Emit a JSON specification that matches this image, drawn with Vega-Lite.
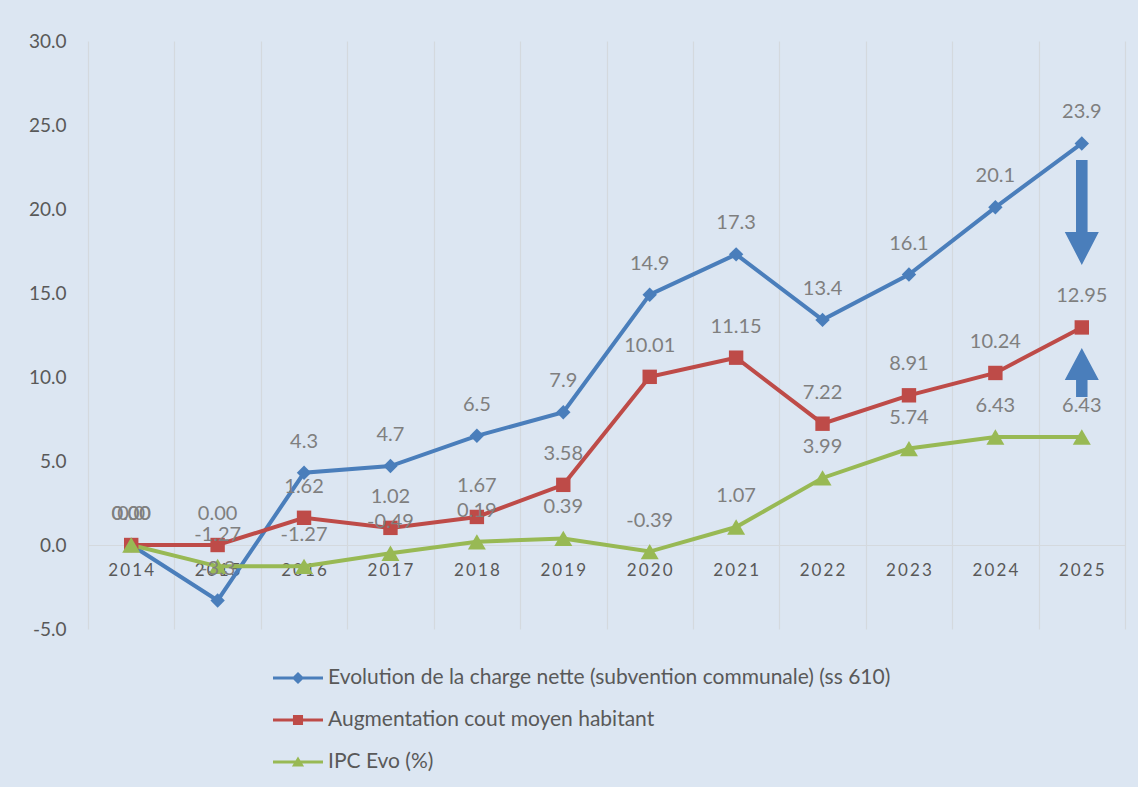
{
  "$schema": "https://vega.github.io/schema/vega-lite/v6.json",
  "width": 1037,
  "height": 588,
  "autosize": {"type": "none"},
  "padding": {"left": 88, "top": 41, "right": 13, "bottom": 158},
  "background": "#dce6f2",
  "config": {
    "view": {"stroke": null},
    "font": "Lato",
    "locale": {"number": {"decimal": ".", "thousands": ",", "grouping": [3], "currency": ["$", ""], "minus": "-"}},
    "legend": {
      "orient": "none",
      "legendX": 189,
      "legendY": 616,
      "direction": "vertical",
      "padding": 0,
      "rowPadding": 11,
      "labelFontSize": 21,
      "labelFont": "Lato",
      "labelColor": "#595959",
      "labelLimit": 0,
      "labelOffset": 9,
      "symbolSize": 1764,
      "symbolStrokeWidth": 0,
      "symbolOpacity": 1
    }
  },
  "data": {
    "values": [
      {"year": "2014", "series": "Evolution de la charge nette (subvention communale) (ss 610)", "value": 0.0},
      {"year": "2015", "series": "Evolution de la charge nette (subvention communale) (ss 610)", "value": -3.3},
      {"year": "2016", "series": "Evolution de la charge nette (subvention communale) (ss 610)", "value": 4.3},
      {"year": "2017", "series": "Evolution de la charge nette (subvention communale) (ss 610)", "value": 4.7},
      {"year": "2018", "series": "Evolution de la charge nette (subvention communale) (ss 610)", "value": 6.5},
      {"year": "2019", "series": "Evolution de la charge nette (subvention communale) (ss 610)", "value": 7.9},
      {"year": "2020", "series": "Evolution de la charge nette (subvention communale) (ss 610)", "value": 14.9},
      {"year": "2021", "series": "Evolution de la charge nette (subvention communale) (ss 610)", "value": 17.3},
      {"year": "2022", "series": "Evolution de la charge nette (subvention communale) (ss 610)", "value": 13.4},
      {"year": "2023", "series": "Evolution de la charge nette (subvention communale) (ss 610)", "value": 16.1},
      {"year": "2024", "series": "Evolution de la charge nette (subvention communale) (ss 610)", "value": 20.1},
      {"year": "2025", "series": "Evolution de la charge nette (subvention communale) (ss 610)", "value": 23.9},
      {"year": "2014", "series": "Augmentation cout moyen habitant", "value": 0.0},
      {"year": "2015", "series": "Augmentation cout moyen habitant", "value": 0.0},
      {"year": "2016", "series": "Augmentation cout moyen habitant", "value": 1.62},
      {"year": "2017", "series": "Augmentation cout moyen habitant", "value": 1.02},
      {"year": "2018", "series": "Augmentation cout moyen habitant", "value": 1.67},
      {"year": "2019", "series": "Augmentation cout moyen habitant", "value": 3.58},
      {"year": "2020", "series": "Augmentation cout moyen habitant", "value": 10.01},
      {"year": "2021", "series": "Augmentation cout moyen habitant", "value": 11.15},
      {"year": "2022", "series": "Augmentation cout moyen habitant", "value": 7.22},
      {"year": "2023", "series": "Augmentation cout moyen habitant", "value": 8.91},
      {"year": "2024", "series": "Augmentation cout moyen habitant", "value": 10.24},
      {"year": "2025", "series": "Augmentation cout moyen habitant", "value": 12.95},
      {"year": "2014", "series": "IPC Evo (%)", "value": 0.0},
      {"year": "2015", "series": "IPC Evo (%)", "value": -1.27},
      {"year": "2016", "series": "IPC Evo (%)", "value": -1.27},
      {"year": "2017", "series": "IPC Evo (%)", "value": -0.49},
      {"year": "2018", "series": "IPC Evo (%)", "value": 0.19},
      {"year": "2019", "series": "IPC Evo (%)", "value": 0.39},
      {"year": "2020", "series": "IPC Evo (%)", "value": -0.39},
      {"year": "2021", "series": "IPC Evo (%)", "value": 1.07},
      {"year": "2022", "series": "IPC Evo (%)", "value": 3.99},
      {"year": "2023", "series": "IPC Evo (%)", "value": 5.74},
      {"year": "2024", "series": "IPC Evo (%)", "value": 6.43},
      {"year": "2025", "series": "IPC Evo (%)", "value": 6.43}
    ]
  },
  "encoding": {
    "y": {
      "field": "value",
      "type": "quantitative",
      "scale": {"domain": [-5, 30], "nice": false, "zero": false},
      "axis": {
        "title": null,
        "values": [-5, 0, 5, 10, 15, 20, 25, 30],
        "format": ".1f",
        "grid": false,
        "domain": false,
        "ticks": false,
        "tickSize": 0,
        "labelPadding": 22,
        "labelFontSize": 19,
        "labelFont": "Lato",
        "labelColor": "#595959",
        "labelFlush": false,
        "labelOverlap": false
      }
    }
  },
  "resolve": {"axis": {"x": "independent"}},
  "layer": [
    {
      "mark": {"type": "point", "filled": true, "opacity": 0, "size": 1764, "strokeWidth": 0},
      "encoding": {
        "x": {"field": "year", "type": "ordinal", "axis": null},
        "color": {
          "field": "series", "type": "nominal",
          "scale": {
            "domain": ["Evolution de la charge nette (subvention communale) (ss 610)", "Augmentation cout moyen habitant", "IPC Evo (%)"],
            "range": ["#4a7ebb", "#be4b48", "#98b954"]
          },
          "legend": {"title": null, "symbolOpacity": 1}
        },
        "shape": {
          "field": "series", "type": "nominal",
          "scale": {
            "domain": ["Evolution de la charge nette (subvention communale) (ss 610)", "Augmentation cout moyen habitant", "IPC Evo (%)"],
            "range": [
              "M-1.19,-0.071H1.19V0.071H-1.19Z M0,-0.29L0.29,0L0,0.29L-0.29,0Z",
              "M-1.19,-0.071H1.19V0.071H-1.19Z M-0.24,-0.24H0.24V0.24H-0.24Z",
              "M-1.19,-0.071H1.19V0.071H-1.19Z M0,-0.26L0.29,0.22H-0.29Z"
            ]
          },
          "legend": {"title": null, "symbolOpacity": 1}
        }
      }
    },
    {
      "mark": {"type": "line", "strokeWidth": 4},
      "encoding": {
        "x": {
          "field": "year", "type": "ordinal",
          "scale": {"type": "band", "paddingInner": 0, "paddingOuter": 0},
          "axis": {"title": null, "orient": "bottom", "grid": true, "tickBand": "extent", "gridColor": "#d4d9de", "gridWidth": 1.2, "labels": false, "ticks": false, "domain": false}
        },
        "stroke": {
          "field": "series", "type": "nominal",
          "scale": {
            "domain": ["Evolution de la charge nette (subvention communale) (ss 610)", "Augmentation cout moyen habitant", "IPC Evo (%)"],
            "range": ["#4a7ebb", "#be4b48", "#98b954"]
          },
          "legend": null
        }
      }
    },
    {
      "transform": [{"filter": "datum.series === 'Evolution de la charge nette (subvention communale) (ss 610)'"}],
      "mark": {"type": "point", "filled": true, "opacity": 1, "color": "#4a7ebb", "size": 324, "shape": "M0,-0.8L0.8,0L0,0.8L-0.8,0Z"},
      "encoding": {
        "x": {
          "field": "year", "type": "ordinal",
          "axis": {
            "title": null, "orient": "bottom", "offset": -84, "grid": false, "ticks": false, "tickSize": 0,
            "domain": true, "domainColor": "#d4d9de", "domainWidth": 1.2,
            "labelPadding": 17, "labelFontSize": 17, "labelFont": "Lato", "labelColor": "#595959", "labelAngle": 0,
            "labelExpr": "join(split(datum.label, ''), '\u2009')"
          }
        }
      }
    },
    {
      "transform": [{"filter": "datum.series === 'Augmentation cout moyen habitant'"}],
      "mark": {"type": "point", "filled": true, "opacity": 1, "color": "#be4b48", "size": 324, "shape": "M-0.8,-0.8H0.8V0.8H-0.8Z"},
      "encoding": {"x": {"field": "year", "type": "ordinal", "axis": null}}
    },
    {
      "transform": [{"filter": "datum.series === 'IPC Evo (%)'"}],
      "mark": {"type": "point", "filled": true, "opacity": 1, "color": "#98b954", "size": 324, "shape": "M0,-0.85L1,0.85H-1Z"},
      "encoding": {"x": {"field": "year", "type": "ordinal", "axis": null}}
    },
    {
      "mark": {"type": "text", "dy": -31, "baseline": "middle", "align": "center", "fontSize": 20, "font": "Lato", "color": "#7f7f7f"},
      "encoding": {
        "x": {"field": "year", "type": "ordinal", "axis": null},
        "text": {
          "condition": {"test": "datum.series === 'Evolution de la charge nette (subvention communale) (ss 610)'", "field": "value", "type": "quantitative", "format": ".1f"},
          "field": "value", "type": "quantitative", "format": ".2f"
        }
      }
    },
    {
      "data": {"values": [{"year": "2025", "value": 19.79}]},
      "mark": {"type": "point", "filled": true, "opacity": 1, "color": "#4a7ebb", "size": 11025, "strokeWidth": 0, "shape": "M-0.11,-1H0.11V0.37H0.324L0,1L-0.324,0.37H-0.11Z"},
      "encoding": {"x": {"field": "year", "type": "ordinal", "axis": null}}
    },
    {
      "data": {"values": [{"year": "2025", "value": 10.27}]},
      "mark": {"type": "point", "filled": true, "opacity": 1, "color": "#4a7ebb", "size": 2401, "strokeWidth": 0, "shape": "M0,-1L0.694,0.306H0.234V1H-0.234V0.306H-0.694Z"},
      "encoding": {"x": {"field": "year", "type": "ordinal", "axis": null}}
    }
  ]
}
